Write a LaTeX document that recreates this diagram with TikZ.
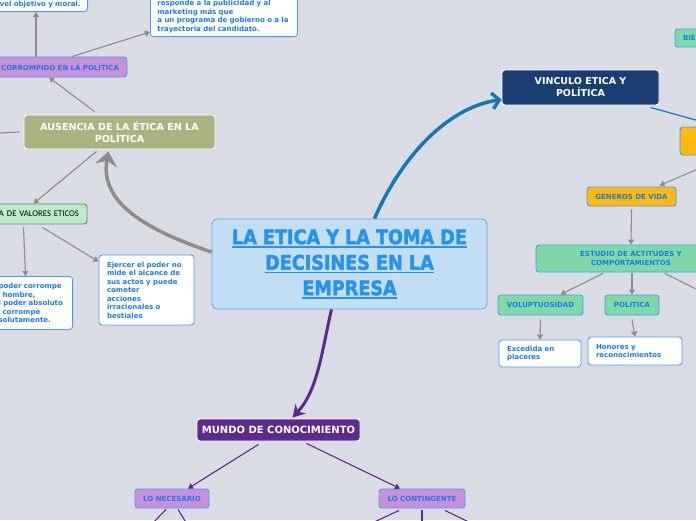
\documentclass[tikz,border=0pt]{standalone}
\usepackage{fontspec}
\setmainfont{DejaVu Sans}
\newfontfamily\carlito{Carlito}
\newfontfamily\titlefont{DejaVu Sans Bold}[FakeStretch=0.88,FakeBold=2]
\usetikzlibrary{arrows.meta}
\definecolor{bgcol}{RGB}{218,220,229}
\definecolor{txtblue}{RGB}{28,122,228}
\definecolor{bdblue}{RGB}{74,155,234}
\definecolor{cblue}{RGB}{195,222,242}
\definecolor{cbord}{RGB}{92,168,230}
\definecolor{ttlblue}{RGB}{36,146,238}
\definecolor{olivec}{RGB}{172,179,131}
\definecolor{purpl}{RGB}{201,144,218}
\definecolor{lgreen}{RGB}{190,234,204}
\definecolor{grgrey}{RGB}{110,130,115}
\definecolor{mgreen}{RGB}{126,216,168}
\definecolor{orng}{RGB}{253,185,19}
\definecolor{navy}{RGB}{26,62,114}
\definecolor{dpurp}{RGB}{93,42,140}
\definecolor{conngrey}{RGB}{140,140,140}
\definecolor{curveblue}{RGB}{24,118,180}
\newcommand\myul[1]{\leavevmode\setbox0\hbox{#1}\rlap{\copy0}\rule[-3.5pt]{\wd0}{1.5pt}}
\tikzset{
 rbox/.style={rounded corners=3pt, line width=0.9pt, inner sep=0pt},
 lbl/.style={font=\fontsize{7}{8.5}\selectfont\bfseries, text=txtblue},
 greyarrow/.style={draw=conngrey, line width=1.1pt, -{Triangle[length=5pt,width=6pt]}},
 greyline/.style={draw=conngrey, line width=1.1pt},
 purparrow/.style={draw=dpurp, line width=1.1pt, -{Triangle[length=5pt,width=6pt]}},
 purpline/.style={draw=dpurp, line width=1.1pt},
}
\begin{document}
\begin{tikzpicture}[x=1pt,y=-1pt]
\useasboundingbox (0,0) rectangle (696,520);
\fill[bgcol] (0,0) rectangle (696,520);

% nodes
\node[rbox, fill=white, draw=bdblue, lbl, text width=92pt, align=right, inner xsep=7pt, inner ysep=3.5pt, text height=30pt, text depth=2pt, anchor=south east] (tl) at (88,12) {vel objetivo y moral.};
\node[rbox, fill=white, draw=bdblue, lbl, text width=133pt, align=left, inner xsep=7pt, inner ysep=4pt, anchor=south west] (tm) at (150,37) {responde a la publicidad y al\\marketing más que\\a un programa de gobierno o a la\\trayectoria del candidato.};
\node[rbox, fill=purpl, draw=bdblue, lbl, text width=136pt, align=right, inner xsep=8pt, minimum height=20pt] (corr) at (51,67) {CORROMPIDO EN LA POLÍTICA};
\node[rbox, fill=olivec, draw=white, text=white, font=\fontsize{9.6}{12}\selectfont\bfseries, align=center, minimum width=191pt, minimum height=34pt] (aus) at (119.5,132) {AUSENCIA DE LA ÉTICA EN LA\\POLÍTICA};
\node[rbox, fill=lgreen, draw=grgrey, text=black, font=\carlito\fontsize{8.7}{10}\selectfont, text width=91pt, align=right, inner xsep=8pt, minimum height=20pt] (val) at (33.5,214) {A DE VALORES ETICOS};
\node[rbox, fill=white, draw=bdblue, lbl, text width=70pt, align=left, inner xsep=4pt, minimum height=53pt, anchor=north east] (bl) at (73,276) {poder corrompe\\\hspace*{4pt}hombre,\\l poder absoluto\\\hspace*{4pt}corrompe\\solutamente.};
\node[rbox, fill=white, draw=bdblue, lbl, text width=79pt, align=left, inner xsep=8pt, minimum height=70pt] (ej) at (146.5,290) {Ejercer el poder no\\mide el alcance de\\sus actos y puede\\cometer\\acciones\\irracionales o\\bestiales};
\node[rbox, rounded corners=5pt, fill=cblue, draw=cbord, text=ttlblue, font=\titlefont\fontsize{20}{25.5}\selectfont, align=center, minimum width=275pt, minimum height=90pt] (central) at (349.5,264) {\myul{LA ETICA Y LA TOMA DE}\\\myul{DECISINES EN LA}\\\myul{EMPRESA}};
\node[rbox, fill=navy, draw=white, text=white, font=\fontsize{9.5}{12}\selectfont\bfseries, align=center, minimum width=157pt, minimum height=35pt] (vinc) at (580.5,87.5) {VINCULO ETICA Y\\POLÍTICA};
\node[rbox, fill=mgreen, draw=bdblue, lbl, text width=29pt, align=left, inner xsep=8pt, minimum height=18pt] (bie) at (697.5,38) {BIE};
\node[rbox, fill=orng, draw=bdblue, minimum width=40pt, minimum height=28pt] (orange) at (700,141) {};
\node[rbox, fill=orng, draw=bdblue, lbl, minimum width=89pt, minimum height=19pt] (gen) at (631.5,196.5) {GENEROS DE VIDA};
\node[rbox, fill=mgreen, draw=bdblue, lbl, align=center, minimum width=190pt, minimum height=27pt] (est) at (631,258.5) {ESTUDIO DE ACTITUDES Y\\COMPORTAMIENTOS};
\node[rbox, fill=mgreen, draw=bdblue, lbl, minimum width=85pt, minimum height=20pt] (vol) at (540.5,305) {VOLUPTUOSIDAD};
\node[rbox, fill=mgreen, draw=bdblue, lbl, minimum width=54pt, minimum height=20pt] (pol) at (632,305) {POLITICA};
\node[rbox, fill=white, draw=bdblue, lbl, text width=66pt, align=left, inner xsep=8pt, minimum height=27pt] (exc) at (540,353.5) {Excedida en\\placeres};
\node[rbox, fill=white, draw=bdblue, lbl, text width=78pt, align=left, inner xsep=8pt, minimum height=28pt] (hon) at (635,351) {Honores y\\reconocimientos};
\node[rbox, fill=dpurp, draw=white, text=white, font=\fontsize{10}{12}\selectfont\bfseries, minimum width=163pt, minimum height=22pt] (mundo) at (278.5,430) {MUNDO DE CONOCIMIENTO};
\node[rbox, fill=purpl, draw=bdblue, lbl, minimum width=74pt, minimum height=19pt] (nec) at (172,498.5) {LO NECESARIO};
\node[rbox, fill=purpl, draw=bdblue, lbl, minimum width=86pt, minimum height=19pt] (cont) at (422,498.5) {LO CONTINGENTE};

% free ends
\coordinate (offL) at (0,133);
\coordinate (offR1) at (700,168);
\coordinate (offR2) at (700,291);
\coordinate (offB1) at (152,524);
\coordinate (offB2) at (187,524);
\coordinate (offB3) at (370,524);
\coordinate (offB4) at (422,524);
\coordinate (offB5) at (473,524);

% grey connectors (left)
\draw[greyarrow] ([xshift=-15pt]corr.north) -- ([xshift=-15pt]corr.north |- tl.south);
\draw[greyarrow] ([xshift=21pt]corr.north) -- ([yshift=5pt]tm.south west);
\draw[greyarrow] ([xshift=-25pt,yshift=3pt]aus.north) -- ([xshift=-2pt]corr.south);
\draw[greyline] ([xshift=-4pt]aus.west) -- (offL);
\draw[greyarrow] ([xshift=-23pt,yshift=-2pt]aus.south) -- (val.north);
\draw[greyarrow] ([xshift=-10pt,yshift=-3pt]val.south) -- ([xshift=-8pt]bl.north);
\draw[greyarrow] ([xshift=9pt,yshift=-3pt]val.south) -- ([yshift=-7pt]ej.north west);

% grey connectors (right)
\draw[draw=curveblue, line width=1.2pt] ([xshift=-9pt,yshift=-2pt]vinc.south east) -- ([xshift=40pt]orange.north west);
\draw[greyarrow] (offR1) -- ([xshift=28pt,yshift=1pt]gen.north);
\draw[greyarrow] ([yshift=-3pt]gen.south) -- (est.north);
\draw[greyarrow] ([xshift=-28pt,yshift=-1pt]est.south) -- ([xshift=20pt]vol.north);
\draw[greyarrow] ([xshift=1pt,yshift=-1pt]est.south) -- (pol.north);
\draw[greyline] ([xshift=34pt,yshift=-1pt]est.south) -- (offR2);
\draw[greyarrow] ([yshift=-4pt]vol.south) -- (exc.north);
\draw[greyarrow] ([yshift=-4pt]pol.south) -- (hon.north);

% purple connectors
\draw[purparrow] ([xshift=-20pt,yshift=-3pt]mundo.south) -- ([xshift=16pt]nec.north);
\draw[purparrow] ([xshift=28pt,yshift=-2pt]mundo.south) -- ([xshift=-22pt]cont.north);
\draw[purpline] ([xshift=-6pt,yshift=-1pt]nec.south) -- (offB1);
\draw[purpline] ([xshift=6pt,yshift=-1pt]nec.south) -- (offB2);
\draw[purpline] ([xshift=-23pt,yshift=-2pt]cont.south) -- (offB3);
\draw[purpline] ([yshift=-2pt]cont.south) -- (offB4);
\draw[purpline] ([xshift=23pt,yshift=-2pt]cont.south) -- (offB5);

% thick curves from central node
\draw[draw=conngrey, line width=3.5pt, -{Stealth[length=14pt,width=22pt]}] ([yshift=12pt]central.west) .. controls (140,228) and (100,200) .. ([xshift=-11pt,yshift=-2pt]aus.south);
\draw[draw=curveblue, line width=3.5pt, -{Straight Barb[length=7pt,width=16pt]}] ([xshift=25pt]central.north) .. controls (400,160) and (445,108) .. ([yshift=-12pt]vinc.west);
\draw[draw=dpurp, line width=3pt, -{Stealth[length=12pt,width=14pt]}] ([xshift=-18pt]central.south) .. controls (322,350) and (318,390) .. ([xshift=14pt,yshift=1pt]mundo.north);
\end{tikzpicture}
\end{document}
